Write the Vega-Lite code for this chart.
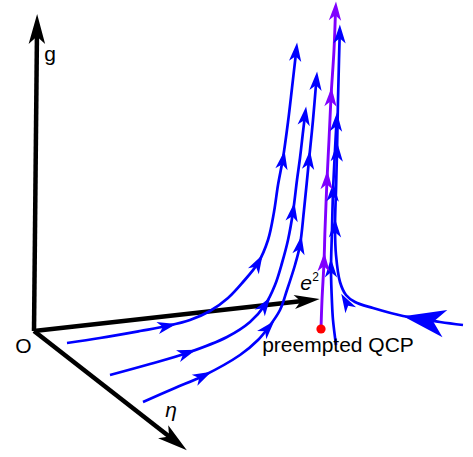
{
  "$schema": "https://vega.github.io/schema/vega-lite/v6.json",
  "width": 473,
  "height": 457,
  "autosize": {"type": "fit", "contains": "padding"},
  "padding": 0,
  "background": "white",
  "config": {"view": {"stroke": null}},
  "datasets": {
    "lines": [
      {"curve": "g", "series": "axis", "i": 0, "x": 34, "y": 331},
      {"curve": "g", "series": "axis", "i": 1, "x": 37, "y": 30},
      {"curve": "e2", "series": "axis", "i": 0, "x": 34, "y": 331},
      {"curve": "e2", "series": "axis", "i": 1, "x": 307, "y": 300.5},
      {"curve": "eta", "series": "axis", "i": 0, "x": 34, "y": 331},
      {"curve": "eta", "series": "axis", "i": 1, "x": 175, "y": 441},
      {"curve": "c1", "series": "blue", "i": 0, "x": 67, "y": 343},
      {"curve": "c1", "series": "blue", "i": 1, "x": 100, "y": 338},
      {"curve": "c1", "series": "blue", "i": 2, "x": 140, "y": 331},
      {"curve": "c1", "series": "blue", "i": 3, "x": 167, "y": 326},
      {"curve": "c1", "series": "blue", "i": 4, "x": 190, "y": 320},
      {"curve": "c1", "series": "blue", "i": 5, "x": 210, "y": 311},
      {"curve": "c1", "series": "blue", "i": 6, "x": 228, "y": 298},
      {"curve": "c1", "series": "blue", "i": 7, "x": 243, "y": 282},
      {"curve": "c1", "series": "blue", "i": 8, "x": 258, "y": 263},
      {"curve": "c1", "series": "blue", "i": 9, "x": 268, "y": 240},
      {"curve": "c1", "series": "blue", "i": 10, "x": 274, "y": 212},
      {"curve": "c1", "series": "blue", "i": 11, "x": 278, "y": 185},
      {"curve": "c1", "series": "blue", "i": 12, "x": 283, "y": 158},
      {"curve": "c1", "series": "blue", "i": 13, "x": 288, "y": 122},
      {"curve": "c1", "series": "blue", "i": 14, "x": 292, "y": 88},
      {"curve": "c1", "series": "blue", "i": 15, "x": 296.1, "y": 52},
      {"curve": "c2", "series": "blue", "i": 0, "x": 110, "y": 375},
      {"curve": "c2", "series": "blue", "i": 1, "x": 150, "y": 364},
      {"curve": "c2", "series": "blue", "i": 2, "x": 187, "y": 353},
      {"curve": "c2", "series": "blue", "i": 3, "x": 227, "y": 337},
      {"curve": "c2", "series": "blue", "i": 4, "x": 250, "y": 322},
      {"curve": "c2", "series": "blue", "i": 5, "x": 265, "y": 305},
      {"curve": "c2", "series": "blue", "i": 6, "x": 275, "y": 285},
      {"curve": "c2", "series": "blue", "i": 7, "x": 282, "y": 263},
      {"curve": "c2", "series": "blue", "i": 8, "x": 288, "y": 240},
      {"curve": "c2", "series": "blue", "i": 9, "x": 293, "y": 212},
      {"curve": "c2", "series": "blue", "i": 10, "x": 297, "y": 180},
      {"curve": "c2", "series": "blue", "i": 11, "x": 300, "y": 158},
      {"curve": "c2", "series": "blue", "i": 12, "x": 303, "y": 132},
      {"curve": "c2", "series": "blue", "i": 13, "x": 304.9, "y": 116},
      {"curve": "c3", "series": "blue", "i": 0, "x": 143, "y": 402},
      {"curve": "c3", "series": "blue", "i": 1, "x": 175, "y": 388},
      {"curve": "c3", "series": "blue", "i": 2, "x": 203, "y": 376},
      {"curve": "c3", "series": "blue", "i": 3, "x": 240, "y": 355},
      {"curve": "c3", "series": "blue", "i": 4, "x": 258, "y": 340},
      {"curve": "c3", "series": "blue", "i": 5, "x": 268, "y": 328},
      {"curve": "c3", "series": "blue", "i": 6, "x": 280, "y": 310},
      {"curve": "c3", "series": "blue", "i": 7, "x": 287, "y": 290},
      {"curve": "c3", "series": "blue", "i": 8, "x": 295, "y": 265},
      {"curve": "c3", "series": "blue", "i": 9, "x": 300, "y": 245},
      {"curve": "c3", "series": "blue", "i": 10, "x": 304, "y": 210},
      {"curve": "c3", "series": "blue", "i": 11, "x": 309, "y": 160},
      {"curve": "c3", "series": "blue", "i": 12, "x": 313, "y": 120},
      {"curve": "c3", "series": "blue", "i": 13, "x": 316.3, "y": 81},
      {"curve": "r1", "series": "blue", "i": 0, "x": 336, "y": 345},
      {"curve": "r1", "series": "blue", "i": 1, "x": 333, "y": 320},
      {"curve": "r1", "series": "blue", "i": 2, "x": 332, "y": 303},
      {"curve": "r1", "series": "blue", "i": 3, "x": 331, "y": 270},
      {"curve": "r1", "series": "blue", "i": 4, "x": 332, "y": 230},
      {"curve": "r1", "series": "blue", "i": 5, "x": 333, "y": 192},
      {"curve": "r1", "series": "blue", "i": 6, "x": 335, "y": 150},
      {"curve": "r1", "series": "blue", "i": 7, "x": 336.5, "y": 122},
      {"curve": "r2", "series": "blue", "i": 0, "x": 463, "y": 325},
      {"curve": "r2", "series": "blue", "i": 1, "x": 440, "y": 322},
      {"curve": "r2", "series": "blue", "i": 2, "x": 403, "y": 316},
      {"curve": "r2", "series": "blue", "i": 3, "x": 373, "y": 308},
      {"curve": "r2", "series": "blue", "i": 4, "x": 355, "y": 302},
      {"curve": "r2", "series": "blue", "i": 5, "x": 346, "y": 295},
      {"curve": "r2", "series": "blue", "i": 6, "x": 340, "y": 282},
      {"curve": "r2", "series": "blue", "i": 7, "x": 336, "y": 255},
      {"curve": "r2", "series": "blue", "i": 8, "x": 335, "y": 228},
      {"curve": "r2", "series": "blue", "i": 9, "x": 336, "y": 190},
      {"curve": "r2", "series": "blue", "i": 10, "x": 337, "y": 152},
      {"curve": "r2", "series": "blue", "i": 11, "x": 338, "y": 100},
      {"curve": "r2", "series": "blue", "i": 12, "x": 339, "y": 60},
      {"curve": "r2", "series": "blue", "i": 13, "x": 339.7, "y": 34},
      {"curve": "pp", "series": "purple", "i": 0, "x": 321, "y": 329},
      {"curve": "pp", "series": "purple", "i": 1, "x": 322, "y": 300},
      {"curve": "pp", "series": "purple", "i": 2, "x": 324, "y": 262},
      {"curve": "pp", "series": "purple", "i": 3, "x": 325, "y": 230},
      {"curve": "pp", "series": "purple", "i": 4, "x": 327, "y": 180},
      {"curve": "pp", "series": "purple", "i": 5, "x": 329, "y": 140},
      {"curve": "pp", "series": "purple", "i": 6, "x": 331, "y": 97},
      {"curve": "pp", "series": "purple", "i": 7, "x": 334, "y": 50},
      {"curve": "pp", "series": "purple", "i": 8, "x": 335.5, "y": 11}
    ],
    "arrows": [
      {"x": 37, "y": 29, "heading": 0.5, "kind": "axisL", "series": "axis"},
      {"x": 307, "y": 300.5, "heading": 83.6, "kind": "axisS", "series": "axis"},
      {"x": 175, "y": 441, "heading": 127.9, "kind": "axisL", "series": "axis"},
      {"x": 167, "y": 326, "heading": 77.6, "kind": "flow", "series": "blue"},
      {"x": 258, "y": 263, "heading": 29, "kind": "flow", "series": "blue"},
      {"x": 283, "y": 160, "heading": 9.5, "kind": "flow", "series": "blue"},
      {"x": 296.1, "y": 52, "heading": 6, "kind": "flow", "series": "blue"},
      {"x": 187, "y": 353, "heading": 70.7, "kind": "flow", "series": "blue"},
      {"x": 265, "y": 305, "heading": 34, "kind": "flow", "series": "blue"},
      {"x": 293, "y": 212, "heading": 8.5, "kind": "flow", "series": "blue"},
      {"x": 304.9, "y": 116, "heading": 7.4, "kind": "flow", "series": "blue"},
      {"x": 203, "y": 376, "heading": 63, "kind": "flow", "series": "blue"},
      {"x": 268, "y": 328, "heading": 41.6, "kind": "flow", "series": "blue"},
      {"x": 300, "y": 245, "heading": 9.3, "kind": "flow", "series": "blue"},
      {"x": 309, "y": 160, "heading": 5.7, "kind": "flow", "series": "blue"},
      {"x": 316.3, "y": 81, "heading": 4.8, "kind": "flow", "series": "blue"},
      {"x": 331, "y": 268, "heading": 0, "kind": "flow", "series": "blue"},
      {"x": 333, "y": 192, "heading": 2, "kind": "flow", "series": "blue"},
      {"x": 336.5, "y": 122, "heading": 3, "kind": "flow", "series": "blue"},
      {"x": 346, "y": 302, "heading": 330, "kind": "flow", "series": "blue"},
      {"x": 335, "y": 228, "heading": 0, "kind": "flow", "series": "blue"},
      {"x": 337, "y": 152, "heading": 1.5, "kind": "flow", "series": "blue"},
      {"x": 339.7, "y": 34, "heading": 1, "kind": "flow", "series": "blue"},
      {"x": 424, "y": 320, "heading": 280, "kind": "big", "series": "blue"},
      {"x": 324, "y": 262, "heading": 2.5, "kind": "flow", "series": "purple"},
      {"x": 327, "y": 180, "heading": 2.5, "kind": "flow", "series": "purple"},
      {"x": 331, "y": 97, "heading": 3.2, "kind": "flow", "series": "purple"},
      {"x": 335.5, "y": 11, "heading": 3, "kind": "flow", "series": "purple"}
    ],
    "labels": [
      {"x": 50, "y": 61, "text": "g", "role": "plain"},
      {"x": 23.5, "y": 353, "text": "O", "role": "plain"},
      {"x": 338, "y": 352, "text": "preempted QCP", "role": "plain"},
      {"x": 171, "y": 417, "text": "η", "role": "italic"},
      {"x": 306, "y": 290, "text": "e", "role": "italic"},
      {"x": 315.5, "y": 281, "text": "2", "role": "sup"}
    ],
    "dots": [
      {"x": 321, "y": 329}
    ]
  },
  "encoding": {
    "x": {"field": "x", "type": "quantitative", "scale": {"domain": [0, 473], "nice": false, "zero": false}, "axis": null},
    "y": {"field": "y", "type": "quantitative", "scale": {"domain": [0, 457], "nice": false, "zero": false, "reverse": true}, "axis": null}
  },
  "resolve": {"scale": {"size": "independent"}},
  "layer": [
    {
      "data": {"name": "lines"},
      "mark": {"type": "line", "interpolate": "catmull-rom", "strokeCap": "butt"},
      "encoding": {
        "detail": {"field": "curve", "type": "nominal"},
        "order": {"field": "i", "type": "quantitative"},
        "color": {"field": "series", "type": "nominal", "scale": {"domain": ["axis", "blue", "purple"], "range": ["#000000", "#0000ff", "#7f00ff"]}, "legend": null},
        "strokeWidth": {"field": "series", "type": "nominal", "scale": {"type": "ordinal", "domain": ["axis", "blue", "purple"], "range": [4.5, 2.7, 2.9]}, "legend": null}
      }
    },
    {
      "data": {"name": "arrows"},
      "transform": [{"filter": "datum.series === 'axis'"}],
      "mark": {"type": "point", "shape": "M0,-1L0.55,1L0,0.5L-0.55,1Z", "filled": true, "opacity": 1, "strokeWidth": 0, "color": "#000000"},
      "encoding": {
        "angle": {"field": "heading", "type": "quantitative", "scale": null},
        "size": {"field": "kind", "type": "nominal", "scale": {"type": "ordinal", "domain": ["axisL", "axisS", "flow", "big"], "range": [900, 650, 360, 1800]}, "legend": null}
      }
    },
    {
      "data": {"name": "arrows"},
      "transform": [{"filter": "datum.series !== 'axis'"}],
      "mark": {"type": "point", "shape": "M0,-1L0.65,1L0,0.45L-0.65,1Z", "filled": true, "opacity": 1, "strokeWidth": 0},
      "encoding": {
        "angle": {"field": "heading", "type": "quantitative", "scale": null},
        "size": {"field": "kind", "type": "nominal", "scale": {"type": "ordinal", "domain": ["axisL", "axisS", "flow", "big"], "range": [900, 650, 360, 1800]}, "legend": null},
        "color": {"field": "series", "type": "nominal", "scale": {"domain": ["axis", "blue", "purple"], "range": ["#000000", "#0000ff", "#7f00ff"]}, "legend": null}
      }
    },
    {
      "data": {"name": "dots"},
      "mark": {"type": "point", "shape": "circle", "filled": true, "opacity": 1, "color": "#ff0000", "size": 85, "strokeWidth": 0}
    },
    {
      "data": {"name": "labels"},
      "transform": [{"filter": "datum.role === 'plain'"}],
      "mark": {"type": "text", "font": "Liberation Sans", "fontSize": 21, "align": "center", "baseline": "alphabetic", "color": "#000000"},
      "encoding": {"text": {"field": "text", "type": "nominal"}}
    },
    {
      "data": {"name": "labels"},
      "transform": [{"filter": "datum.role === 'italic'"}],
      "mark": {"type": "text", "font": "Liberation Sans", "fontSize": 21, "fontStyle": "italic", "align": "center", "baseline": "alphabetic", "color": "#000000"},
      "encoding": {"text": {"field": "text", "type": "nominal"}}
    },
    {
      "data": {"name": "labels"},
      "transform": [{"filter": "datum.role === 'sup'"}],
      "mark": {"type": "text", "font": "Liberation Sans", "fontSize": 12, "align": "center", "baseline": "alphabetic", "color": "#000000"},
      "encoding": {"text": {"field": "text", "type": "nominal"}}
    }
  ]
}
